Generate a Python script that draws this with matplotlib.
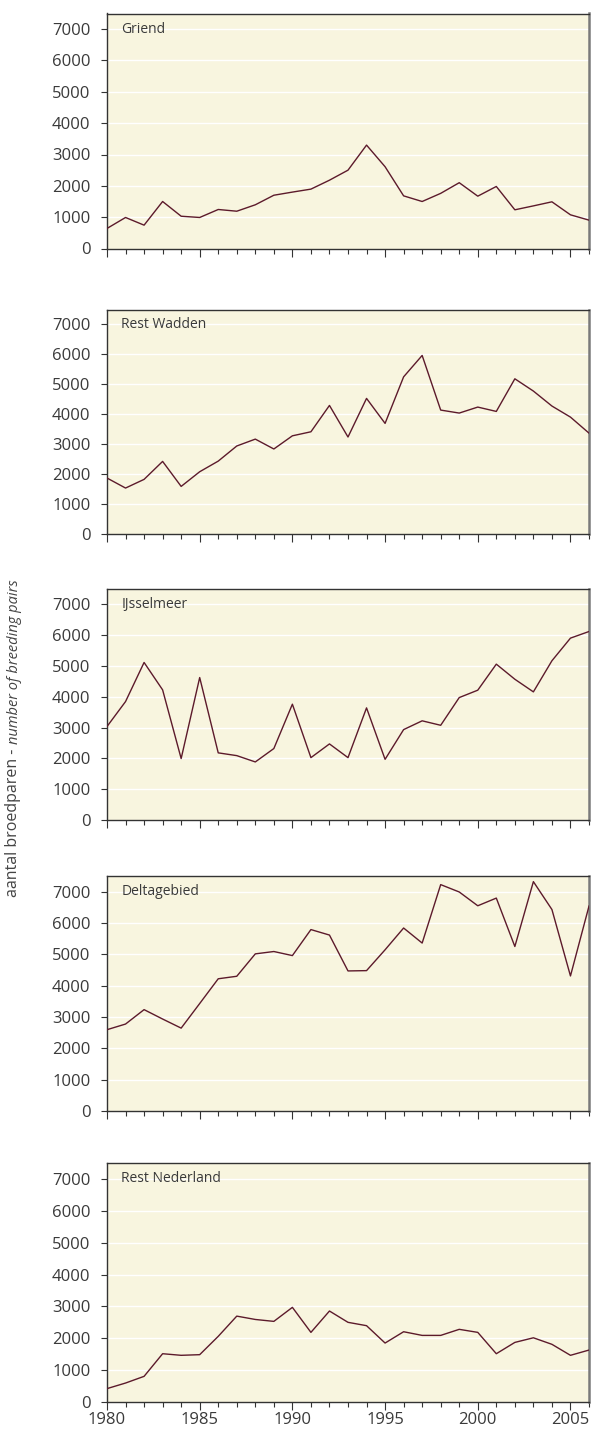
import numpy as np
import matplotlib
matplotlib.use("Agg")
import matplotlib.pyplot as plt
from matplotlib.ticker import MultipleLocator

plt.rcParams['font.family'] = ['Open Sans', 'DejaVu Sans']

years = list(range(1980, 2007))

griend = [640, 990, 745, 1500, 1030, 990, 1245, 1190, 1395, 1700, 1800, 1895, 2180,
          2500, 3300, 2610, 1680, 1500, 1760, 2100, 1670, 1980, 1235, 1360, 1490, 1075, 905]
rest_wadden = [1870, 1535, 1825, 2425, 1590, 2080, 2435, 2940, 3170, 2840, 3280, 3415, 4295,
               3240, 4530, 3695, 5250, 5965, 4140, 4040, 4240, 4095, 5185, 4775, 4275, 3905, 3370]
ijsselmeer = [3035, 3845, 5115, 4225, 1995, 4625, 2180, 2090, 1885, 2320, 3760, 2025, 2470,
              2025, 3640, 1970, 2935, 3220, 3075, 3975, 4215, 5060, 4570, 4160, 5170, 5905, 6120]
deltagebied = [2595, 2775, 3235, 2935, 2645, 3430, 4220, 4300, 5015, 5090, 4960, 5790, 5615,
               4470, 4480, 5145, 5840, 5360, 7225, 6990, 6550, 6795, 5250, 7320, 6430, 4310, 6540]
rest_nederland = [420, 595, 805, 1515, 1465, 1485, 2060, 2695, 2590, 2530, 2970, 2185, 2855,
                  2500, 2395, 1850, 2205, 2090, 2090, 2280, 2185, 1515, 1870, 2015, 1810, 1465, 1630]

regions = ["Griend", "Rest Wadden", "IJsselmeer", "Deltagebied", "Rest Nederland"]
series = [griend, rest_wadden, ijsselmeer, deltagebied, rest_nederland]

W, H = 592, 1433
fig = plt.figure(figsize=(W / 100, H / 100), dpi=100)

# panel top/bottom in pixels (from top of image)
panels_px = [(13.5, 248.5), (309.5, 534), (589, 820), (876, 1111), (1163, 1402)]
left_px, right_px = 107, 589

bg = '#f8f5df'
line_col = '#5c1a2b'
txt_col = '#3a3a3a'

for i, (name, vals) in enumerate(zip(regions, series)):
    top, bot = panels_px[i]
    ax = fig.add_axes([left_px / W, 1 - bot / H, (right_px - left_px) / W, (bot - top) / H])
    ax.set_facecolor(bg)
    ax.plot(years, vals, color=line_col, lw=1.0, zorder=3)
    ax.set_xlim(1980, 2006)
    ax.set_ylim(0, 7500)
    ax.set_yticks(range(0, 8000, 1000))
    ax.xaxis.set_major_locator(MultipleLocator(5))
    ax.xaxis.set_minor_locator(MultipleLocator(1))
    for y in range(1000, 8000, 1000):
        ax.axhline(y, color='white', lw=1.0, zorder=1)
    for s in ['left', 'top', 'bottom']:
        ax.spines[s].set_color('#333333')
        ax.spines[s].set_linewidth(1.0)
    ax.spines['right'].set_color('#7a7a7a')
    ax.spines['right'].set_linewidth(1.8)
    ax.tick_params(axis='y', direction='out', length=4, width=0.8, pad=8,
                   labelsize=12, labelcolor=txt_col, color='#333333')
    ax.tick_params(axis='x', which='major', direction='out', length=6, width=0.8,
                   pad=1.5, labelsize=12, labelcolor=txt_col, color='#333333')
    ax.tick_params(axis='x', which='minor', direction='out', length=3.5, width=0.8,
                   color='#333333')
    if i < len(regions) - 1:
        ax.tick_params(axis='x', labelbottom=False)
    ax.text(0.03, 7000, name, transform=ax.get_yaxis_transform(), ha='left', va='center',
            fontsize=10, color=txt_col, zorder=4)

split = 1 - 744 / H
fig.text(0.022, split, "aantal broedparen - ", rotation=90, ha='center', va='top',
         fontsize=11.5, color='#444444')
fig.text(0.024, split, "number of breeding pairs", rotation=90, ha='center', va='bottom',
         fontsize=10.5, color='#444444', style='italic')

fig.savefig("out.png", dpi=100)
